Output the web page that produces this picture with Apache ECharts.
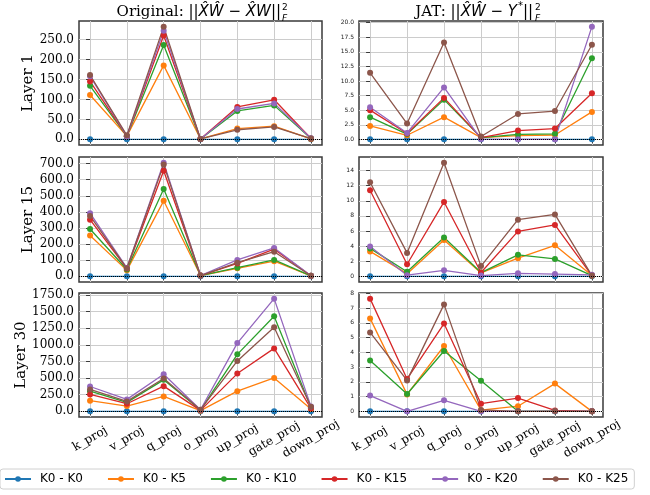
<!DOCTYPE html>
<html>
<head>
<meta charset="utf-8">
<script src="https://cdn.jsdelivr.net/npm/echarts@6/dist/echarts.min.js"></script>
<style>
html,body{margin:0;padding:0;background:#fff}
#chart{width:650px;height:495px}
</style>
</head>
<body>
<div id="chart"></div>
<script>
const modules = ['k_proj', 'v_proj', 'q_proj', 'o_proj', 'up_proj', 'gate_proj', 'down_proj']
const seriesNames = ['K0 - K0', 'K0 - K5', 'K0 - K10', 'K0 - K15', 'K0 - K20', 'K0 - K25']
const colors = ['#1f77b4', '#ff7f0e', '#2ca02c', '#d62728', '#9467bd', '#8c564b']
const layerNames = ['Layer 1', 'Layer 15', 'Layer 30']

// one row per series (K0-K0 ... K0-K25), one value per module
const layer1Orig = [
  [0, 0, 0, 0, 0, 0, 0],
  [111, 8, 185, 1, 27, 33, 1],
  [134, 8, 236, 1, 71, 85, 2],
  [145, 8, 260, 1, 81, 99, 2],
  [158, 8, 272, 1, 76, 90, 3],
  [161, 10, 282, 1, 24, 31, 2]
]
const layer1Jat = [
  [0, 0, 0, 0, 0, 0, 0],
  [2.3, 0.7, 3.8, 0.3, 0.65, 0.75, 4.7],
  [3.8, 0.9, 6.8, 0.3, 0.85, 0.95, 13.9],
  [5.0, 1.0, 7.1, 0.3, 1.5, 1.85, 7.9],
  [5.5, 1.1, 8.9, 0.05, 0, 0, 19.3],
  [11.4, 2.7, 16.6, 0.5, 4.35, 4.85, 16.2]
]
const layer15Orig = [
  [0, 0, 0, 0, 0, 0, 0],
  [254, 37, 469, 5, 50, 94, 2],
  [294, 42, 542, 5, 54, 102, 3],
  [352, 48, 656, 5, 80, 169, 4],
  [392, 52, 706, 5, 102, 176, 4],
  [375, 50, 694, 5, 85, 153, 4]
]
const layer15Jat = [
  [0, 0, 0, 0, 0, 0, 0],
  [3.3, 0.35, 4.8, 0.45, 2.4, 4.1, 0.1],
  [3.7, 0.6, 5.15, 0.5, 2.85, 2.3, 0.1],
  [11.4, 1.6, 9.85, 0.5, 5.95, 6.8, 0.1],
  [3.95, 0.15, 0.8, 0.1, 0.4, 0.3, 0.2],
  [12.45, 3.1, 15.05, 1.35, 7.5, 8.2, 0.1]
]
const layer30Orig = [
  [0, 0, 0, 0, 0, 0, 0],
  [160, 80, 224, 10, 304, 503, 35],
  [304, 135, 474, 20, 857, 1431, 60],
  [254, 115, 379, 15, 568, 947, 45],
  [374, 180, 558, 25, 1027, 1695, 75],
  [329, 150, 494, 25, 758, 1266, 70]
]
const layer30Jat = [
  [0, 0, 0, 0, 0, 0, 0],
  [6.3, 1.15, 4.43, 0.08, 0.35, 1.88, 0],
  [3.44, 1.18, 4.09, 2.07, 0, 0, 0],
  [7.64, 2.2, 5.95, 0.52, 0.9, 0.06, 0],
  [1.07, 0, 0.75, 0, 0, 0, 0],
  [5.35, 2.1, 7.25, 0.1, 0, 0.02, 0]
]

const xTicks = [0, 1, 2, 3, 4, 5, 6]
const l1OrigTicks = [0, 50, 100, 150, 200, 250]
const l1JatTicks = [0, 2.5, 5, 7.5, 10, 12.5, 15, 17.5, 20]
const l15OrigTicks = [0, 100, 200, 300, 400, 500, 600, 700]
const l15JatTicks = [0, 2, 4, 6, 8, 10, 12, 14]
const l30OrigTicks = [0, 250, 500, 750, 1000, 1250, 1500, 1750]
const l30JatTicks = [0, 1, 2, 3, 4, 5, 6, 7, 8]

const panels = [
  {data: layer1Orig, ticks: l1OrigTicks, dec: 1, col: 0, row: 0},
  {data: layer1Jat, ticks: l1JatTicks, dec: 1, col: 1, row: 0},
  {data: layer15Orig, ticks: l15OrigTicks, dec: 1, col: 0, row: 1},
  {data: layer15Jat, ticks: l15JatTicks, dec: 0, col: 1, row: 1},
  {data: layer30Orig, ticks: l30OrigTicks, dec: 1, col: 0, row: 2},
  {data: layer30Jat, ticks: l30JatTicks, dec: 0, col: 1, row: 2}
]

const colLeft = [79, 359]
const colWidth = [243, 244]
const rowTop = [21, 157, 293]
const rowHeight = [124, 125, 124]

let grids = [], xAxes = [], yAxes = [], series = []

panels.forEach((p, idx) => {
  let all = [].concat(...p.data)
  let lo = Math.min(...all), hi = Math.max(...all)
  let pad = (hi - lo) * 0.05
  let left = p.col === 0
  grids.push({
    left: colLeft[p.col], top: rowTop[p.row], width: colWidth[p.col], height: rowHeight[p.row],
    show: true, borderColor: '#3a3a3a', borderWidth: 1.5, backgroundColor: 'transparent'
  })
  xAxes.push({
    gridIndex: idx, type: 'value', min: -0.3, max: 6.3,
    axisLine: {show: false},
    axisTick: {show: true, customValues: xTicks, length: 4, lineStyle: {color: '#3a3a3a', width: 1}},
    axisLabel: {
      show: p.row === 2, customValues: xTicks,
      formatter: v => modules[Math.round(v)],
      rotate: 30, align: 'center', verticalAlign: 'middle', margin: 22,
      fontFamily: 'DejaVu Serif', fontSize: 12, color: '#000'
    },
    splitLine: {show: true, lineStyle: {color: '#cccccc', width: 1}}
  })
  yAxes.push({
    gridIndex: idx, type: 'value', min: lo - pad, max: hi + pad,
    name: left ? layerNames[p.row] : '', nameLocation: 'middle', nameGap: 42,
    nameTextStyle: {fontFamily: 'DejaVu Serif', fontSize: 15, color: '#000'},
    axisLine: {show: false},
    axisTick: {show: true, customValues: p.ticks, length: 4, lineStyle: {color: '#3a3a3a', width: 1}},
    axisLabel: {
      customValues: p.ticks, margin: 5,
      formatter: v => v.toFixed(p.dec),
      fontFamily: left ? 'DejaVu Serif' : 'DejaVu Sans',
      fontSize: left ? 12 : 6, color: left ? '#000' : '#222'
    },
    splitLine: {show: true, lineStyle: {color: '#cccccc', width: 1}}
  })
  p.data.forEach((vals, s) => {
    let ser = {
      type: 'line', name: seriesNames[s], xAxisIndex: idx, yAxisIndex: idx,
      data: vals.map((v, i) => [i, v]),
      symbol: 'circle', symbolSize: 6, showSymbol: true,
      color: colors[s], lineStyle: {width: 1.3}, animation: false,
      emphasis: {disabled: true}
    }
    if (s === p.data.length - 1) {
      ser.markLine = {
        silent: true, symbol: 'none', animation: false,
        label: {show: false},
        lineStyle: {color: '#000', type: 'dotted', width: 1},
        data: [{yAxis: 0}]
      }
    }
    series.push(ser)
  })
})

const mathRich = {
  rm: {fontFamily: 'DejaVu Serif', fontSize: 15, fill: '#000'},
  n: {fontFamily: 'DejaVu Sans', fontSize: 15, fill: '#000'},
  it: {fontFamily: 'DejaVu Sans', fontStyle: 'italic', fontSize: 15, fill: '#000'}
}

let chart = echarts.init(document.getElementById('chart'))
chart.setOption({
  backgroundColor: '#fff',
  animation: false,
  grid: grids,
  xAxis: xAxes,
  yAxis: yAxes,
  series: series,
  legend: {
    data: seriesNames, left: 0, top: 469,
    itemWidth: 26, itemHeight: 7, itemGap: 24,
    textStyle: {fontFamily: 'DejaVu Sans', fontSize: 12, color: '#000', padding: [0, 0, 0, 4]},
    borderColor: '#d0d0d0', borderWidth: 1, borderRadius: 3, padding: [4, 6, 4, 4],
    backgroundColor: '#fff'
  },
  graphic: [
    {type: 'text', x: 281, y: 12, style: {
      text: '{rm|Original: }{n|||}{it|X\u0302W\u0302}{n| \u2212 }{it|X\u0302W}{n|||}',
      rich: mathRich, align: 'right', verticalAlign: 'middle'}},
    {type: 'text', x: 282, y: 8, style: {text: '2', font: '9px DejaVu Sans', fill: '#000', verticalAlign: 'middle'}},
    {type: 'text', x: 282, y: 19, style: {text: 'F', font: 'italic 9px DejaVu Sans', fill: '#000', verticalAlign: 'middle'}},
    {type: 'text', x: 517, y: 12, style: {
      text: '{rm|JAT: }{n|||}{it|X\u0302W\u0302}{n| \u2212 }{it|Y}',
      rich: mathRich, align: 'right', verticalAlign: 'middle'}},
    {type: 'text', x: 518, y: 6, style: {text: '*', font: '10px DejaVu Sans', fill: '#000', verticalAlign: 'middle'}},
    {type: 'text', x: 523, y: 12, style: {text: '||', font: '15px DejaVu Sans', fill: '#000', verticalAlign: 'middle'}},
    {type: 'text', x: 535, y: 8, style: {text: '2', font: '9px DejaVu Sans', fill: '#000', verticalAlign: 'middle'}},
    {type: 'text', x: 535, y: 19, style: {text: 'F', font: 'italic 9px DejaVu Sans', fill: '#000', verticalAlign: 'middle'}}
  ]
})
</script>
</body>
</html>
